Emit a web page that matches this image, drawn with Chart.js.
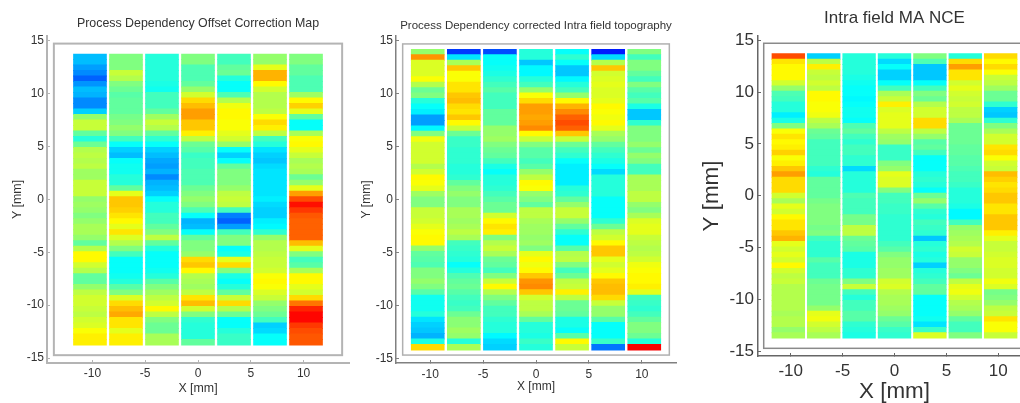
<!DOCTYPE html>
<html>
<head>
<meta charset="utf-8">
<script src="https://cdn.jsdelivr.net/npm/chart.js@4"></script>
<style>
  html, body { margin: 0; background: #fff; overflow: hidden; }
  #page { position: relative; width: 1020px; height: 403px; overflow: hidden; }
  /* the reference is a resampled screenshot, so everything in it is a bit soft */
  canvas { position: absolute; top: 0; filter: blur(0.45px); }
</style>
</head>
<body>
<div id="page">
  <canvas id="offsetMap"></canvas>
  <canvas id="topography"></canvas>
  <canvas id="maNce"></canvas>
</div>
<script>
// tick labels and column centres (mm)
const xTicks = [-10, -5, 0, 5, 10];
const yTicks = [-15, -10, -5, 0, 5, 10, 15];
const columnX = [-10.23, -6.82, -3.41, 0, 3.41, 6.82, 10.23];

const offsetCol1 = [31,31,28,26,22,27,31,30,26,26, 33,52,57,57,47,41,48,55,56,55, 56,53,53,57,57,57,52,53,52,50, 52,54,54,52,47,55,63,63,58,55, 47,47,52,56,58,58,57,56,58,59, 62,64,64];
const offsetCol2 = [50,50,50,57,55,50,48,46,47,47, 47,49,50,52,50,44,38,33,31,38, 39,39,41,41,47,60,68,68,67,65, 63,60,65,59,55,50,44,38,38,38, 39,41,46,50,59,66,69,71,65,65, 60,64,64];
const offsetCol3 = [41,41,41,41,41,40,39,44,44,44, 47,53,57,55,47,42,38,33,31,29, 28,30,26,30,31,33,38,41,41,44, 44,47,50,56,47,41,38,38,38,39, 41,46,50,53,56,58,63,56,50,48, 48,54,54];
const offsetCol4 = [50,50,45,45,45,47,52,58,66,69, 72,72,68,68,64,56,48,46,43,44, 44,45,45,45,48,50,52,50,45,38, 30,31,38,47,50,50,52,66,68,63, 55,54,53,56,65,69,58,50,42,41, 41,41,47];
const offsetCol5 = [44,44,47,48,41,38,38,45,55,61, 63,63,62,62,60,58,52,38,33,38, 47,50,50,50,52,56,57,56,44,25, 22,28,44,50,50,38,40,60,66,50, 40,38,41,47,57,66,55,48,38,38, 41,43,43];
const offsetCol6 = [52,52,60,70,70,63,58,55,55,55, 56,62,66,64,56,44,41,35,33,32, 34,35,35,35,35,35,36,34,33,33, 36,37,42,52,55,55,56,57,57,58, 62,63,62,59,57,52,50,48,44,33, 34,38,38];
const offsetCol7 = [50,50,47,47,45,45,45,53,63,67, 60,47,38,38,54,62,63,60,57,54, 55,54,48,52,60,72,80,86,82,79, 78,78,78,78,69,60,50,44,46,54, 63,63,60,58,66,76,84,87,87,82, 80,79,79];

const topoCol1 = [52,73,59,59,59,62,55,48,50,41, 38,36,28,28,37,50,61,58,58,58, 58,55,58,63,62,60,53,50,50,57, 57,58,60,62,63,63,52,47,46,45, 50,50,52,50,46,39,39,39,41,35, 33,32,30,40,66];
const topoCol2 = [18,35,54,68,62,62,65,65,68,69, 66,65,68,63,57,48,43,43,42,42, 42,41,41,42,47,50,52,50,50,54, 54,53,54,56,54,44,43,42,41,38, 41,45,47,48,46,44,43,44,48,51, 51,53,52,41,54];
const topoCol3 = [20,38,38,39,40,42,44,46,44,44, 44,47,47,47,52,52,53,50,48,47, 44,40,38,41,41,42,44,46,48,48, 58,63,65,64,50,55,57,54,48,47, 44,50,57,63,55,50,47,44,44,42, 41,41,37,34,33];
const topoCol4 = [41,41,32,37,37,41,44,52,62,66, 72,72,71,72,74,63,57,50,46,46, 44,46,52,56,63,62,52,50,47,56, 56,54,53,53,52,53,50,60,63,61, 63,68,73,74,68,58,56,56,54,47, 41,41,40,43,41];
const topoCol5 = [38,42,38,32,32,37,41,44,52,63, 70,74,78,80,78,68,57,48,44,42, 38,36,36,36,36,41,42,47,52,57, 57,52,47,42,38,38,46,55,56,50, 44,48,56,57,64,56,48,48,47,40, 40,38,46,63,57];
const topoCol6 = [15,34,55,68,58,59,60,59,59,60, 63,62,61,63,60,54,52,47,44,42, 40,38,34,41,41,41,41,38,38,38, 38,42,48,56,58,63,68,68,60,58, 60,63,68,69,69,66,57,52,52,46, 38,38,38,43,24];
const topoCol7 = [50,44,50,50,47,44,50,46,44,46, 40,32,32,42,50,50,50,52,48,52, 50,44,44,54,54,54,56,56,52,50, 54,59,60,60,57,56,55,56,58,61, 62,63,63,64,60,44,43,42,44,47, 50,50,48,41,88];

const nceCol1 = [80,65,63,63,63,58,52,45,44,41, 41,36,40,50,62,65,63,64,67,62, 64,68,72,66,66,66,58,54,60,58, 63,65,65,68,70,60,58,60,58,63, 58,56,57,55,55,55,55,55,54,55, 55,52,54];
const nceCol2 = [33,56,64,57,56,58,56,63,63,62, 62,61,56,54,48,47,44,44,44,44, 44,42,41,47,47,47,47,49,50,50, 50,50,49,50,44,42,42,42,46,44, 44,44,48,49,49,49,49,52,60,61, 58,56,54];
const nceCol3 = [41,41,41,41,40,39,38,38,37,38, 39,39,38,45,47,44,42,44,44,42, 42,34,41,41,41,41,45,44,44,44, 49,49,56,56,48,47,46,40,40,40, 42,42,50,57,44,41,44,44,46,46, 42,41,40];
const nceCol4 = [41,34,38,33,33,38,44,54,57,64, 59,60,60,60,56,53,52,43,43,43, 50,52,60,59,59,50,44,44,43,43, 42,42,42,42,42,44,46,50,52,52, 53,53,58,59,55,54,54,53,52,48, 46,43,42];
const nceCol5 = [50,45,32,32,32,38,44,50,48,55, 58,58,66,66,56,52,46,47,44,38, 38,38,41,42,41,38,48,52,46,42, 41,44,43,42,32,41,42,40,41,33, 41,42,44,47,47,38,38,38,38,39, 35,43,59];
const nceCol6 = [41,66,72,65,65,58,60,58,57,58, 56,56,54,48,48,48,48,47,47,46, 46,45,44,44,43,41,41,41,40,37, 37,44,52,53,54,55,58,57,52,52, 50,48,56,60,61,58,55,54,52,47, 44,44,50];
const nceCol7 = [66,63,66,62,57,56,53,48,48,42, 33,32,42,50,54,58,58,65,66,62, 58,57,69,67,65,66,68,68,65,65, 68,68,68,64,60,57,57,58,59,59, 58,58,61,59,49,50,52,56,57,65, 62,62,57];

function jet(v) {
  const t = v / 100;
  const ch = c => Math.round(255 * Math.min(1, Math.max(0, 1.5 - Math.abs(4 * t - c))));
  return `rgb(${ch(3)},${ch(2)},${ch(1)})`;
}

// inner box sitting inside the detached axes
const innerBox = {
  id: 'innerBox',
  beforeDatasetsDraw(chart, args, opts) {
    const { x, y } = chart.scales;
    const c = chart.ctx;
    c.save();
    c.strokeStyle = opts.color;
    c.lineWidth = opts.width;
    c.strokeRect(x.getPixelForValue(-opts.halfX), y.getPixelForValue(opts.halfY),
      x.getPixelForValue(opts.halfX) - x.getPixelForValue(-opts.halfX),
      y.getPixelForValue(-opts.halfY) - y.getPixelForValue(opts.halfY));
    c.restore();
  }
};

function panel(p) {
  const canvas = document.getElementById(p.id);
  canvas.width = p.width;
  canvas.height = 403;
  canvas.style.left = p.left + 'px';
  canvas.style.width = p.width + 'px';
  canvas.style.height = '403px';

  const step = 2 * p.halfCells / p.columns[0].length;
  const datasets = p.columns.map((vals, c) => ({
    data: vals.map((v, r) => ({
      x: columnX[c],
      y: [p.halfCells - (r + 1) * step - 0.03, p.halfCells - r * step]
    })),
    backgroundColor: vals.map(jet),
    borderWidth: 0,
    barThickness: p.barWidth,
    grouped: false
  }));

  const tickFont = { family: 'Liberation Sans', size: 12 * p.fontScale };
  new Chart(canvas, {
    type: 'bar',
    data: { datasets },
    plugins: [innerBox],
    options: {
      responsive: false,
      animation: false,
      layout: { autoPadding: false, padding: { right: p.right } },
      plugins: {
        legend: { display: false },
        tooltip: { enabled: false },
        title: {
          display: true,
          fullSize: false,
          text: p.title,
          color: p.textColor,
          font: { family: 'Liberation Sans', size: p.titleSize, weight: 'normal', lineHeight: 1.2 },
          padding: p.titlePadding
        },
        innerBox: { color: p.boxColor, width: p.boxWidth, halfX: p.boxX, halfY: p.boxY }
      },
      scales: {
        x: {
          type: 'linear',
          min: -p.rangeX,
          max: p.rangeX,
          offset: false,
          afterBuildTicks: s => { s.ticks = xTicks.map(value => ({ value })); },
          afterFit: s => { s.height = 403 - p.bottom; },
          border: { color: p.axisColor, width: p.axisWidth },
          grid: { offset: false, drawOnChartArea: false, color: p.axisColor, tickLength: -3 },
          ticks: { color: p.textColor, font: tickFont, padding: p.xTickPad, maxRotation: 0, autoSkip: false },
          title: {
            display: true,
            text: 'X [mm]',
            color: p.textColor,
            font: { family: 'Liberation Sans', size: p.labelSize, lineHeight: 1 },
            padding: { top: 0, bottom: p.xTitlePad }
          }
        },
        y: {
          min: p.rangeY[0],
          max: p.rangeY[1],
          afterBuildTicks: s => { s.ticks = yTicks.map(value => ({ value })); },
          afterFit: s => { s.width = p.leftWidth; },
          border: { color: p.axisColor, width: p.axisWidth },
          grid: { drawOnChartArea: false, color: p.axisColor, tickLength: -3 },
          ticks: { color: p.textColor, font: tickFont, padding: p.yTickPad, autoSkip: false },
          title: {
            display: true,
            text: 'Y [mm]',
            color: p.textColor,
            font: { family: 'Liberation Sans', size: p.labelSize, lineHeight: 1 },
            padding: { top: p.yTitlePad, bottom: 0 }
          }
        }
      }
    }
  });
}

panel({
  id: 'offsetMap', left: 0, width: 396, leftWidth: 47, right: 47, bottom: 363,
  columns: [offsetCol1, offsetCol2, offsetCol3, offsetCol4, offsetCol5, offsetCol6, offsetCol7],
  title: 'Process Dependency Offset Correction Map',
  titleSize: 12.4, titlePadding: { top: 16.5, bottom: 4.6 },
  halfCells: 13.75, barWidth: 33, rangeX: 14.3, rangeY: [-15.47, 15.45],
  boxX: 13.65, boxY: 14.73, boxColor: '#b4b4b4', boxWidth: 2,
  axisColor: '#b4b4b4', axisWidth: 2, textColor: '#333',
  fontScale: 1, labelSize: 12.4, xTickPad: 6, yTickPad: 6, xTitlePad: 8, yTitlePad: 11
});

panel({
  id: 'topography', left: 360, width: 352, leftWidth: 36, right: 36, bottom: 363,
  columns: [topoCol1, topoCol2, topoCol3, topoCol4, topoCol5, topoCol6, topoCol7],
  title: 'Process Dependency corrected Intra field topography',
  titleSize: 11.5, titlePadding: { top: 19, bottom: 3.2 },
  halfCells: 14.2, barWidth: 33, rangeX: 13.23, rangeY: [-15.45, 15.45],
  boxX: 12.6, boxY: 14.7, boxColor: '#b0b0b0', boxWidth: 1.5,
  axisColor: '#808080', axisWidth: 1.5, textColor: '#333',
  fontScale: 1, labelSize: 12, xTickPad: 7, yTickPad: 6, xTitlePad: 10, yTitlePad: 1
});

panel({
  id: 'maNce', left: 695, width: 399, leftWidth: 63, right: 63, bottom: 356,
  columns: [nceCol1, nceCol2, nceCol3, nceCol4, nceCol5, nceCol6, nceCol7],
  title: 'Intra field MA NCE',
  titleSize: 17, titlePadding: { top: 7.8, bottom: 7.8 },
  halfCells: 13.7, barWidth: 32.7, rangeX: 13.15, rangeY: [-15.44, 15.4],
  boxX: 12.6, boxY: 14.7, boxColor: '#8a8a8a', boxWidth: 1.5,
  axisColor: '#666', axisWidth: 1.5, textColor: '#333',
  fontScale: 1.42, labelSize: 22.4, xTickPad: 8, yTickPad: 7, xTitlePad: 0, yTitlePad: 6
});
</script>
</body>
</html>
